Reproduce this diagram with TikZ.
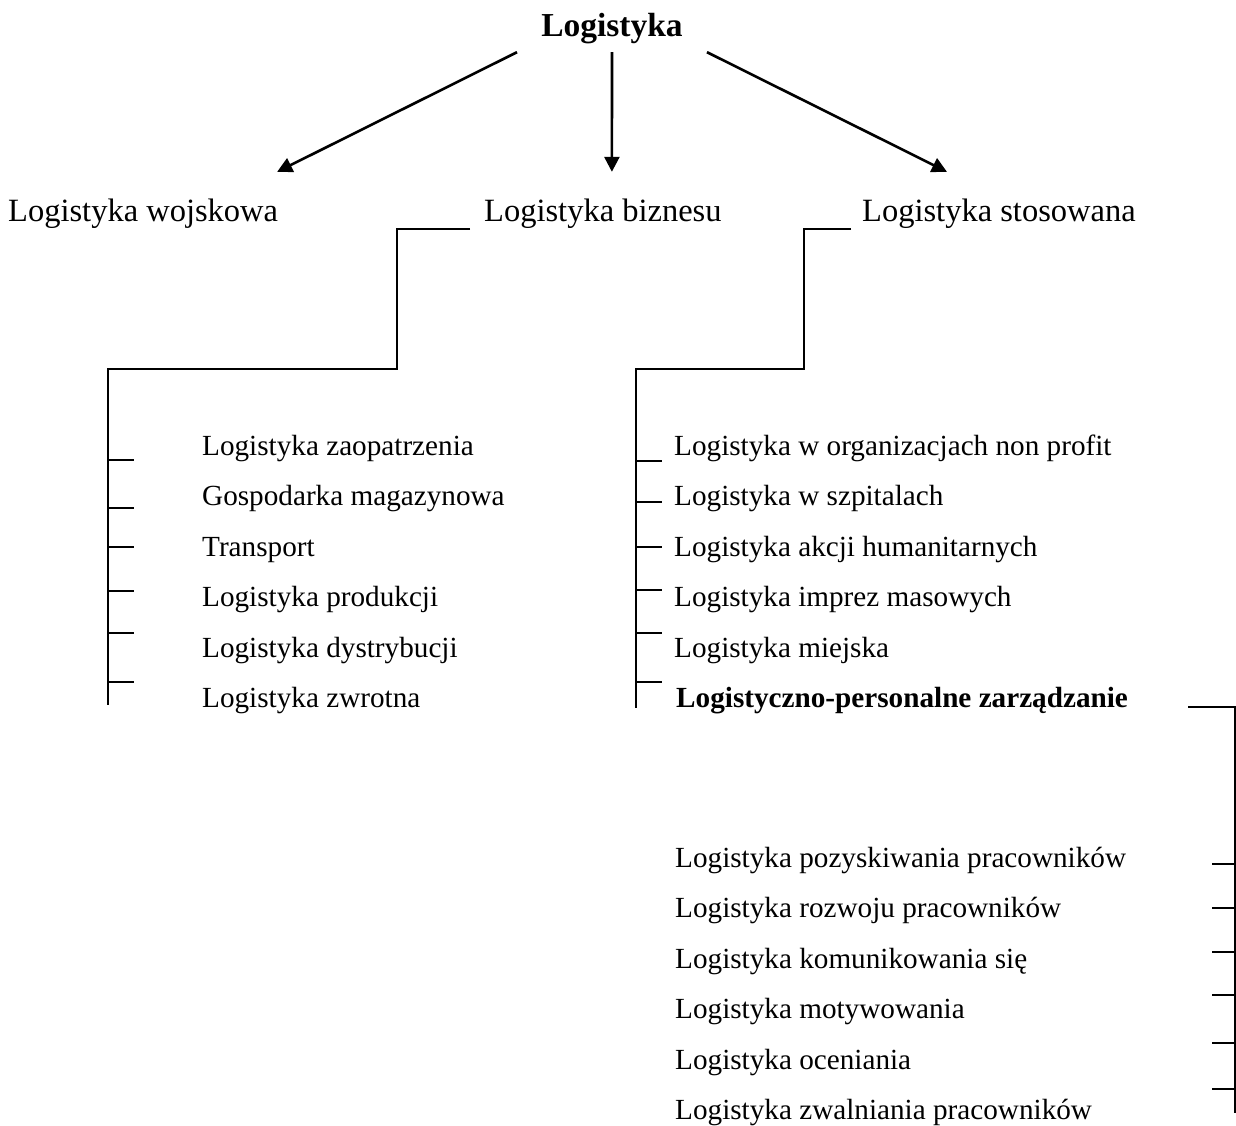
\documentclass[tikz,border=0pt]{standalone}
\usepackage{fontspec}
\setmainfont{Liberation Serif}
\usetikzlibrary{arrows.meta}
\tikzset{
  lvl-one/.style={
    inner sep=0pt,
    text height=23pt,
    text depth=7pt,
    font=\fontsize{33.5}{40}\selectfont\bfseries
  },
  lvl-two/.style={
    anchor=base west,
    inner sep=0pt,
    text height=22pt,
    text depth=7pt,
    font=\fontsize{32.5}{38}\selectfont
  },
  item/.style={anchor=base west, inner sep=0pt, font=\fontsize{29.2}{35}\selectfont},
  item-bold/.style={item, font=\fontsize{29.2}{35}\selectfont\bfseries},
  arrow/.style={line width=2.6pt, -{Triangle[length=15pt,width=15pt]}},
  bracket/.style={line width=2pt}
}

\begin{document}
\begin{tikzpicture}[x=1pt,y=-1pt]
  \useasboundingbox (0,0) rectangle (1236,1126);
  % Root
  \node[lvl-one, anchor=base] (logi) at (612,37) {Logistyka};
  % Second level
  \node[lvl-two] (mil) at (8,222) {Logistyka wojskowa};
  \node[lvl-two] (biz) at (484,222) {Logistyka biznesu};
  \node[lvl-two] (app) at (862,222) {Logistyka stosowana};
  \draw[arrow] ([xshift=-95pt,yshift=-8pt]logi.south) -- ([xshift=134pt,yshift=28pt]mil.north);
  \draw[arrow] ([yshift=-8pt]logi.south) -- ([xshift=9pt,yshift=28pt]biz.north);
  \draw[arrow] ([xshift=95pt,yshift=-8pt]logi.south) -- ([xshift=-52pt,yshift=28pt]app.north);
  % Business logistics
  \coordinate (biz-foot) at (108,705);
  \draw[bracket] ([xshift=-14pt]biz.south west) -- ++(-73,0) -- ++(0,140) -| (biz-foot);
  \draw[bracket] (108,460) -- ++(26,0) (108,508) -- ++(26,0) (108,547) -- ++(26,0)
    (108,591) -- ++(26,0) (108,633) -- ++(26,0) (108,682) -- ++(26,0);
  \node[item] (biz-1) at (202,455) {Logistyka zaopatrzenia};
  \node[item] (biz-2) at (202,505.5) {Gospodarka magazynowa};
  \node[item] (biz-3) at (202,556) {Transport};
  \node[item] (biz-4) at (202,606.5) {Logistyka produkcji};
  \node[item] (biz-5) at (202,657) {Logistyka dystrybucji};
  \node[item] (biz-6) at (202,707.5) {Logistyka zwrotna};
  % Applied logistics
  \coordinate (app-foot) at (636,708);
  \draw[bracket] ([xshift=-11pt]app.south west) -- ++(-47,0) -- ++(0,140) -| (app-foot);
  \draw[bracket] (636,461) -- ++(26,0) (636,502) -- ++(26,0) (636,547) -- ++(26,0)
    (636,590) -- ++(26,0) (636,633) -- ++(26,0) (636,682) -- ++(26,0);
  \node[item] (app-1) at (674,455) {Logistyka w organizacjach non profit};
  \node[item] (app-2) at (674,505.5) {Logistyka w szpitalach};
  \node[item] (app-3) at (674,556) {Logistyka akcji humanitarnych};
  \node[item] (app-4) at (674,606.5) {Logistyka imprez masowych};
  \node[item] (app-5) at (674,657) {Logistyka miejska};
  \node[item-bold] (lpz) at (676,707.5) {Logistyczno-personalne zarządzanie};
  % Personnel logistics
  \coordinate (lpz-foot) at (1235,1113);
  \draw[bracket] (lpz.base east) ++(60,-1) -| (lpz-foot);
  \draw[bracket] (1235,864) -- ++(-23,0) (1235,908) -- ++(-23,0) (1235,952) -- ++(-23,0)
    (1235,995) -- ++(-23,0) (1235,1043) -- ++(-23,0) (1235,1089) -- ++(-23,0);
  \node[item] (lpz-1) at (675,867) {Logistyka pozyskiwania pracowników};
  \node[item] (lpz-2) at (675,917.5) {Logistyka rozwoju pracowników};
  \node[item] (lpz-3) at (675,968) {Logistyka komunikowania się};
  \node[item] (lpz-4) at (675,1018.5) {Logistyka motywowania};
  \node[item] (lpz-5) at (675,1069) {Logistyka oceniania};
  \node[item] (lpz-6) at (675,1119.5) {Logistyka zwalniania pracowników};
\end{tikzpicture}
\end{document}
